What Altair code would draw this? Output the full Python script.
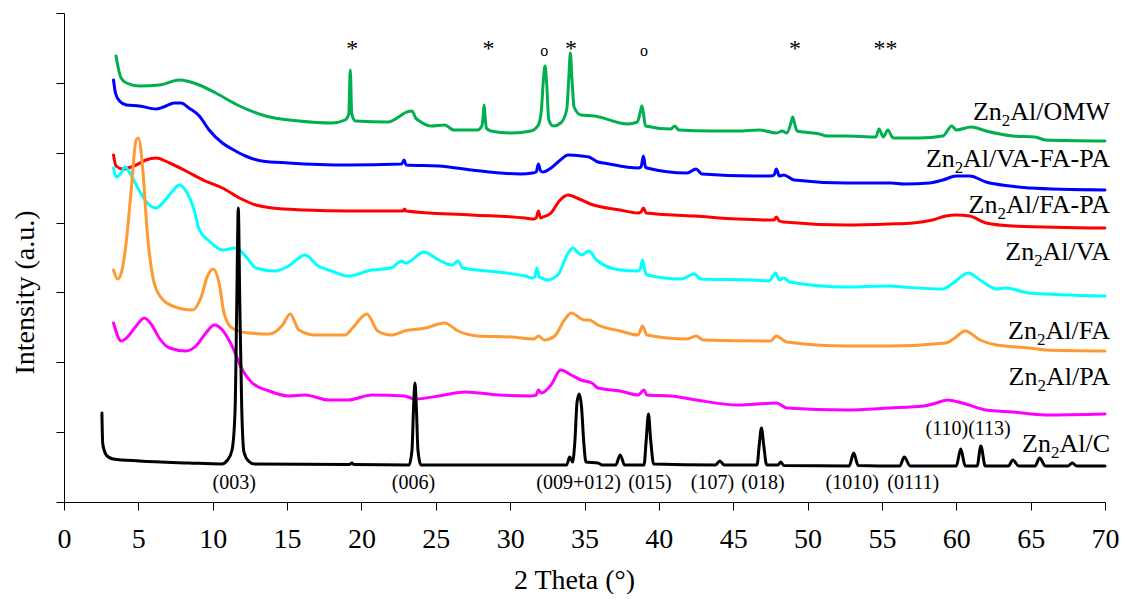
import altair as alt
import pandas as pd

SERIF = "Liberation Serif"

# ---------------- data (2 Theta in degrees, intensity in a.u.) ----------------
omw_x = [3.5, 3.62, 3.84, 4.2, 5.07, 6.4, 7.75, 9.1, 10.2, 11.8, 13.56, 15.8, 18.0, 18.9, 19.15, 19.25, 19.35, 19.6,
         21.8, 22.6, 22.9, 23.4, 23.65, 23.9, 24.7, 25.6, 26.2, 27.8, 28.1, 28.18, 28.25, 28.32, 28.4, 28.7, 30.1,
         31.4, 31.9, 32.1, 32.25, 32.35, 32.45, 32.6, 32.9, 33.4, 33.8, 33.95, 34.05, 34.15, 34.3, 34.76, 35.66,
         37.9, 38.55, 38.75, 38.85, 38.95, 39.1, 40.8, 41.06, 41.35, 43.5, 45.3, 46.8, 47.9, 48.3, 48.6, 48.9, 49.0,
         49.1, 49.3, 49.7, 50.8, 51.3, 52.6, 54.6, 54.8, 55.1, 55.4, 55.75, 57.5, 59.1, 59.7, 60.0, 61.0, 62.0,
         63.8, 65.3, 66.0, 70]
omw_y = [446, 436, 424, 419, 416, 417, 422, 417, 409, 396, 386, 381, 379, 382, 388, 432, 388, 381,
         380, 386, 389, 391, 384, 381, 376, 377, 372, 372, 376, 385, 397, 385, 374, 371, 369,
         371, 377, 392, 425, 436, 420, 382, 376, 379, 392, 425, 449, 425, 395, 387, 386,
         378, 380, 390, 396, 390, 376, 373, 376, 372, 371, 371, 372, 369, 371, 369, 380, 385,
         380, 371, 370, 368, 366, 366, 365, 373, 365, 372, 364, 364, 366, 376, 372, 375, 371,
         366, 365, 362, 361]

vfp_x = [3.33, 3.46, 3.73, 4.2, 5.07, 6.2, 6.86, 7.4, 7.86, 8.4, 9.1, 9.76, 10.65, 11.3, 12.2, 13.3, 15.1, 19.1,
         22.7, 22.87, 23.0, 25.2, 27.4, 30.7, 31.5, 31.75, 31.9, 32.05, 32.2, 32.75, 33.3, 33.9, 34.8, 35.3, 35.9,
         36.3, 38.6, 38.8, 38.96, 39.1, 39.2, 41.9, 42.5, 42.9, 46.4, 47.5, 47.75, 47.9, 48.1, 48.4, 49.1, 52.6,
         55.6, 56.5, 58.2, 59.1, 60.0, 60.9, 62.0, 63.6, 64.9, 70]
vfp_y = [422, 409, 401, 397, 396, 393, 396, 399, 399, 394, 386, 372, 359, 353, 346, 341, 339, 337,
         338, 342, 337, 336, 332, 328, 329, 330, 338, 331, 330, 334, 341, 347, 346, 345, 340,
         339, 334, 335, 346, 335, 334, 329, 333, 328, 326, 326, 327, 333, 326, 327, 322, 319,
         319, 318, 319, 322, 326, 326, 320, 316, 314, 312]

fp_x = [3.33, 3.5, 3.95, 4.85, 5.5, 6.2, 7.1, 8.2, 9.5, 10.65, 11.8, 12.9, 14.0, 16.2, 19.1, 22.8, 22.9, 23.0,
        27.4, 31.0, 31.6, 31.75, 31.9, 32.05, 32.2, 32.75, 33.3, 33.9, 34.5, 35.4, 37.4, 38.6, 38.8, 38.96,
        39.15, 42.4, 45.3, 47.5, 47.75, 47.9, 48.1, 48.4, 52.6, 55.5, 57.1, 58.4, 59.3, 60.0, 60.9, 62.0,
        63.8, 70]
fp_y = [347, 336, 333, 337, 342, 344, 339, 331, 321, 314, 304, 297, 294, 292, 291, 291, 293, 291,
        287, 284, 283, 284, 291, 284, 285, 289, 301, 307, 304, 298, 292, 289, 290, 294,
        289, 286, 283, 282, 282, 285, 281, 280, 277, 278, 279, 282, 286, 287, 286, 279,
        276, 274]

va_x = [3.33, 3.5, 3.85, 4.1, 4.5, 5.07, 5.6, 6.2, 6.75, 7.3, 7.75, 8.2, 8.75, 9.1, 9.76, 10.65, 11.55, 12.2,
        12.9, 14.2, 15.1, 16.2, 17.1, 18.0, 19.1, 20.7, 22.0, 22.7, 23.0, 24.2, 25.2, 26.1, 26.5, 26.8, 28.5,
        31.0, 31.5, 31.65, 31.8, 31.95, 32.1, 32.5, 33.2, 33.9, 34.2, 34.8, 35.3, 35.8, 37.4, 38.6, 38.75,
        38.9, 39.05, 39.2, 41.5, 42.4, 42.8, 46.4, 47.4, 47.85, 48.1, 48.4, 48.8, 52.6, 55.5, 56.4, 59.1,
        59.8, 60.8, 61.6, 62.7, 63.3, 64.9, 70]
va_y = [334, 325, 329, 335, 327, 311, 299, 294, 301, 311, 317, 311, 292, 272, 261, 252, 254, 246,
        234, 231, 236, 247, 236, 231, 226, 232, 234, 241, 239, 250, 242, 237, 241, 234, 231,
        226, 224, 225, 234, 225, 224, 222, 227, 249, 254, 247, 251, 242, 232, 231, 233,
        242, 232, 227, 223, 228, 223, 222, 221, 229, 222, 224, 220, 215, 216, 215, 213,
        219, 229, 222, 213, 214, 209, 206]

fa_x = [3.33, 3.6, 3.85, 4.2, 4.5, 4.85, 5.0, 5.3, 5.6, 5.96, 6.4, 7.3, 8.64, 9.2, 9.65, 10.03, 10.43, 10.76,
        11.3, 12.4, 13.8, 14.7, 15.2, 15.8, 16.9, 18.9, 19.4, 20.36, 21.1, 22.0, 22.9, 24.3, 25.6, 26.5, 27.8,
        30.1, 31.6, 31.9, 32.3, 33.0, 33.65, 34.1, 35.0, 35.3, 35.9, 37.4, 38.6, 38.9, 39.2, 41.9, 42.5, 43.0,
        47.5, 47.9, 48.6, 52.6, 55.5, 59.3, 59.9, 60.6, 61.6, 62.7, 64.9, 66.0, 70]
fa_y = [232, 223, 229, 262, 309, 362, 364, 332, 269, 226, 207, 196, 192, 204, 226, 233, 219, 189,
        174, 169, 168, 177, 188, 172, 167, 167, 174, 188, 171, 167, 171, 174, 179, 171, 166,
        165, 163, 166, 162, 166, 182, 189, 182, 182, 177, 171, 167, 176, 167, 163, 166, 162,
        161, 166, 160, 156, 156, 159, 164, 171, 162, 157, 154, 152, 151]

pa_x = [3.33, 3.85, 4.2, 4.8, 5.4, 5.9, 6.4, 7.1, 8.2, 8.87, 9.54, 10.1, 10.65, 11.3, 12.0, 12.66, 13.8, 15.1,
        16.2, 17.8, 19.1, 20.7, 22.9, 23.6, 25.2, 27.0, 29.2, 31.4, 31.75, 31.9, 32.1, 32.75, 33.4, 34.1,
        34.76, 35.5, 35.9, 37.4, 38.6, 39.0, 39.2, 40.8, 42.5, 45.3, 47.9, 48.6, 52.6, 55.5, 57.8, 58.65,
        59.4, 60.4, 62.0, 63.8, 66.0, 70]
pa_y = [179, 161, 164, 175, 184, 177, 164, 154, 151, 156, 169, 177, 172, 156, 132, 119, 111, 106,
        107, 102, 102, 107, 106, 103, 106, 110, 107, 106, 107, 112, 109, 117, 132, 127,
        122, 119, 114, 111, 107, 112, 107, 106, 102, 97, 99, 94, 92, 94, 96, 99,
        102, 99, 92, 90, 87, 88]

c_x = [2.55, 2.6, 2.7, 2.84, 3.3, 5.07, 8.4, 10.6, 11.0, 11.3, 11.5, 11.62, 11.72, 11.82, 11.95, 12.1, 12.4, 12.8,
       19.2, 19.35, 19.5, 23.2, 23.4, 23.5, 23.6, 23.7, 23.8, 24.0, 33.8, 34.0, 34.2, 34.35, 34.5, 34.65, 34.8,
       34.95, 35.1, 35.9, 36.2, 37.1, 37.4, 37.7, 39.0, 39.15, 39.3, 39.45, 39.65, 43.8, 44.1, 44.4, 46.6, 46.75,
       46.9, 47.05, 47.25, 48.0, 48.2, 48.4, 52.8, 53.1, 53.4, 56.2, 56.5, 56.9, 60.0, 60.3, 60.6, 61.4, 61.65,
       61.95, 63.5, 63.8, 64.2, 65.3, 65.6, 66.0, 67.5, 67.8, 68.1, 70]
c_y = [89, 59, 52, 47, 43, 41, 39, 38, 42, 52, 90, 200, 294, 200, 95, 50, 41, 38,
       37.5, 39, 37.5, 37, 52, 92, 119, 92, 52, 37, 37, 45, 40, 60, 100, 108, 95,
       60, 40, 39, 37, 37, 47, 37, 37, 62, 88, 62, 38, 37, 41, 37, 37, 57,
       74, 57, 37, 37, 40, 36.5, 36, 49, 36.5, 36, 45, 36, 36, 53, 36, 36, 56,
       36, 36, 42, 36, 36, 44, 36, 36, 39, 36, 36]

series_names = ["OMW", "VA-FA-PA", "FA-PA", "VA", "FA", "PA", "C"]
series_colors = ["#00B050", "#0000FF", "#FF0000", "#00FFFF", "#FF9933", "#FF00FF", "#000000"]
label_y = [382, 335.5, 289, 242.3, 163, 117.3, 50]

# phase markers above the OMW pattern
mark_star_x = [19.38, 28.55, 34.1, 49.15, 55.24]
mark_star_text = ["*", "*", "*", "*", "**"]
mark_circ_x = [32.3, 39.0]
mark_y = 446

# reflections of the LDH (Zn2Al/C)
hkl_x = [11.45, 23.5, 34.6, 39.4, 43.6, 47.0, 53.0, 57.1, 60.8]
hkl_text = ["(003)", "(006)", "(009+012)", "(015)", "(107)", "(018)", "(1010)", "(0111)", "(110)(113)"]
hkl_y = [13, 13, 13, 13, 13, 13, 13, 13, 66.7]

# ---------------- build ----------------
series_data = [omw_x, omw_y], [vfp_x, vfp_y], [fp_x, fp_y], [va_x, va_y], [fa_x, fa_y], [pa_x, pa_y], [c_x, c_y]
rows = []
for name, (xs, ys) in zip(series_names, series_data):
    for xv, yv in zip(xs, ys):
        rows.append({"series": name, "theta": xv, "intensity": yv})
df = pd.DataFrame(rows)

W_PLOT, H_PLOT = 1041, 489

x_scale = alt.Scale(domain=[0, 70], nice=False, zero=False)
y_scale = alt.Scale(domain=[0, 489], nice=False)

x_axis = alt.Axis(
    title="2 Theta (°)", values=list(range(0, 71, 5)), grid=False, tickSize=8, tickColor="#000000",
    domainColor="#000000", labelFont=SERIF, labelFontSize=28, labelColor="#000000", labelPadding=37,
    labelBaseline="alphabetic", labelFlush=False, labelOverlap=False, labelBound=False,
    titleFont=SERIF, titleFontSize=28, titleFontWeight="normal", titleColor="#000000",
    titleX=510, titleY=86, titleAlign="center", titleBaseline="alphabetic", titleAnchor="start")
y_axis = alt.Axis(
    title="Intensity (a.u.)", values=[i * 489 / 7 for i in range(8)], labels=False, grid=False, tickSize=8,
    tickColor="#000000", domainColor="#000000",
    titleFont=SERIF, titleFontSize=28, titleFontWeight="normal", titleColor="#000000",
    titleX=-31, titleY=279, titleAngle=-90, titleAlign="center", titleBaseline="alphabetic", titleAnchor="start")

X = alt.X("theta:Q", scale=x_scale, axis=x_axis)
Y = alt.Y("intensity:Q", scale=y_scale, axis=y_axis)

color_scale = alt.Scale(domain=series_names, range=series_colors)

lines = alt.Chart(df[df.series != "C"]).mark_line(
    strokeWidth=3, interpolate="monotone", strokeJoin="round", strokeCap="round"
).encode(x=X, y=Y, color=alt.Color("series:N", scale=color_scale, legend=None), detail="series:N")

black = alt.Chart(df[df.series == "C"]).mark_line(
    strokeWidth=3, interpolate="monotone", color="#000000", strokeJoin="round", strokeCap="round"
).encode(x=X, y=Y)

stars = alt.Chart(pd.DataFrame({"theta": mark_star_x, "intensity": [mark_y] * len(mark_star_x),
                                "label": mark_star_text})).mark_text(
    font=SERIF, fontSize=24, align="center", baseline="alphabetic", color="#000000"
).encode(x=X, y=Y, text="label:N")

circs = alt.Chart(pd.DataFrame({"theta": mark_circ_x, "intensity": [mark_y] * len(mark_circ_x),
                                "label": ["o"] * len(mark_circ_x)})).mark_text(
    font=SERIF, fontSize=16, align="center", baseline="alphabetic", color="#000000"
).encode(x=X, y=Y, text="label:N")

hkl = alt.Chart(pd.DataFrame({"theta": hkl_x, "intensity": hkl_y, "label": hkl_text})).mark_text(
    font=SERIF, fontSize=20, align="center", baseline="alphabetic", color="#000000"
).encode(x=X, y=Y, text="label:N")

# series labels "Zn2Al/..." with subscript 2, right aligned at the end of the axis
FS, FS_SUB = 26, 17
DX_END = 5
times_w = {"A": 0.722, "l": 0.278, "/": 0.278, "O": 0.722, "M": 0.889, "W": 0.944, "V": 0.722,
           "-": 0.333, "F": 0.556, "P": 0.556, "C": 0.667, "Z": 0.611, "n": 0.5, "2": 0.5}
times_kern = {"VA": -0.135, "FA": -0.074, "PA": -0.092, "AV": -0.135}


def text_w(s, fs):
    w = sum(times_w.get(ch, 0.5) for ch in s)
    w += sum(times_kern.get(s[i:i + 2], 0.0) for i in range(len(s) - 1))
    return w * fs


tails = ["Al/" + n for n in series_names]
tail_layer = alt.Chart(pd.DataFrame({"theta": [70] * len(tails), "intensity": label_y, "label": tails})).mark_text(
    font=SERIF, fontSize=FS, align="right", baseline="alphabetic", color="#000000", dx=DX_END
).encode(x=X, y=Y, text="label:N")

label_layers = [tail_layer]
for tail, yb in zip(tails, label_y):
    wt = text_w(tail, FS)
    w2 = text_w("2", FS_SUB)
    one = pd.DataFrame({"theta": [70], "intensity": [yb], "sub": ["2"], "head": ["Zn"]})
    label_layers.append(alt.Chart(one).mark_text(
        font=SERIF, fontSize=FS_SUB, align="right", baseline="alphabetic", color="#000000",
        dx=DX_END - wt, dy=6).encode(x=X, y=Y, text="sub:N"))
    label_layers.append(alt.Chart(one).mark_text(
        font=SERIF, fontSize=FS, align="right", baseline="alphabetic", color="#000000",
        dx=DX_END - wt - w2).encode(x=X, y=Y, text="head:N"))

chart = alt.layer(lines, black, stars, circs, hkl, *label_layers).properties(
    width=W_PLOT, height=H_PLOT,
    autosize=alt.AutoSizeParams(type="none"),
    padding={"left": 56, "top": 5, "right": 14, "bottom": 92},
    background="#FFFFFF",
).configure_view(stroke=None)

chart.save("out.html", embed_options={"renderer": "svg", "actions": False})
